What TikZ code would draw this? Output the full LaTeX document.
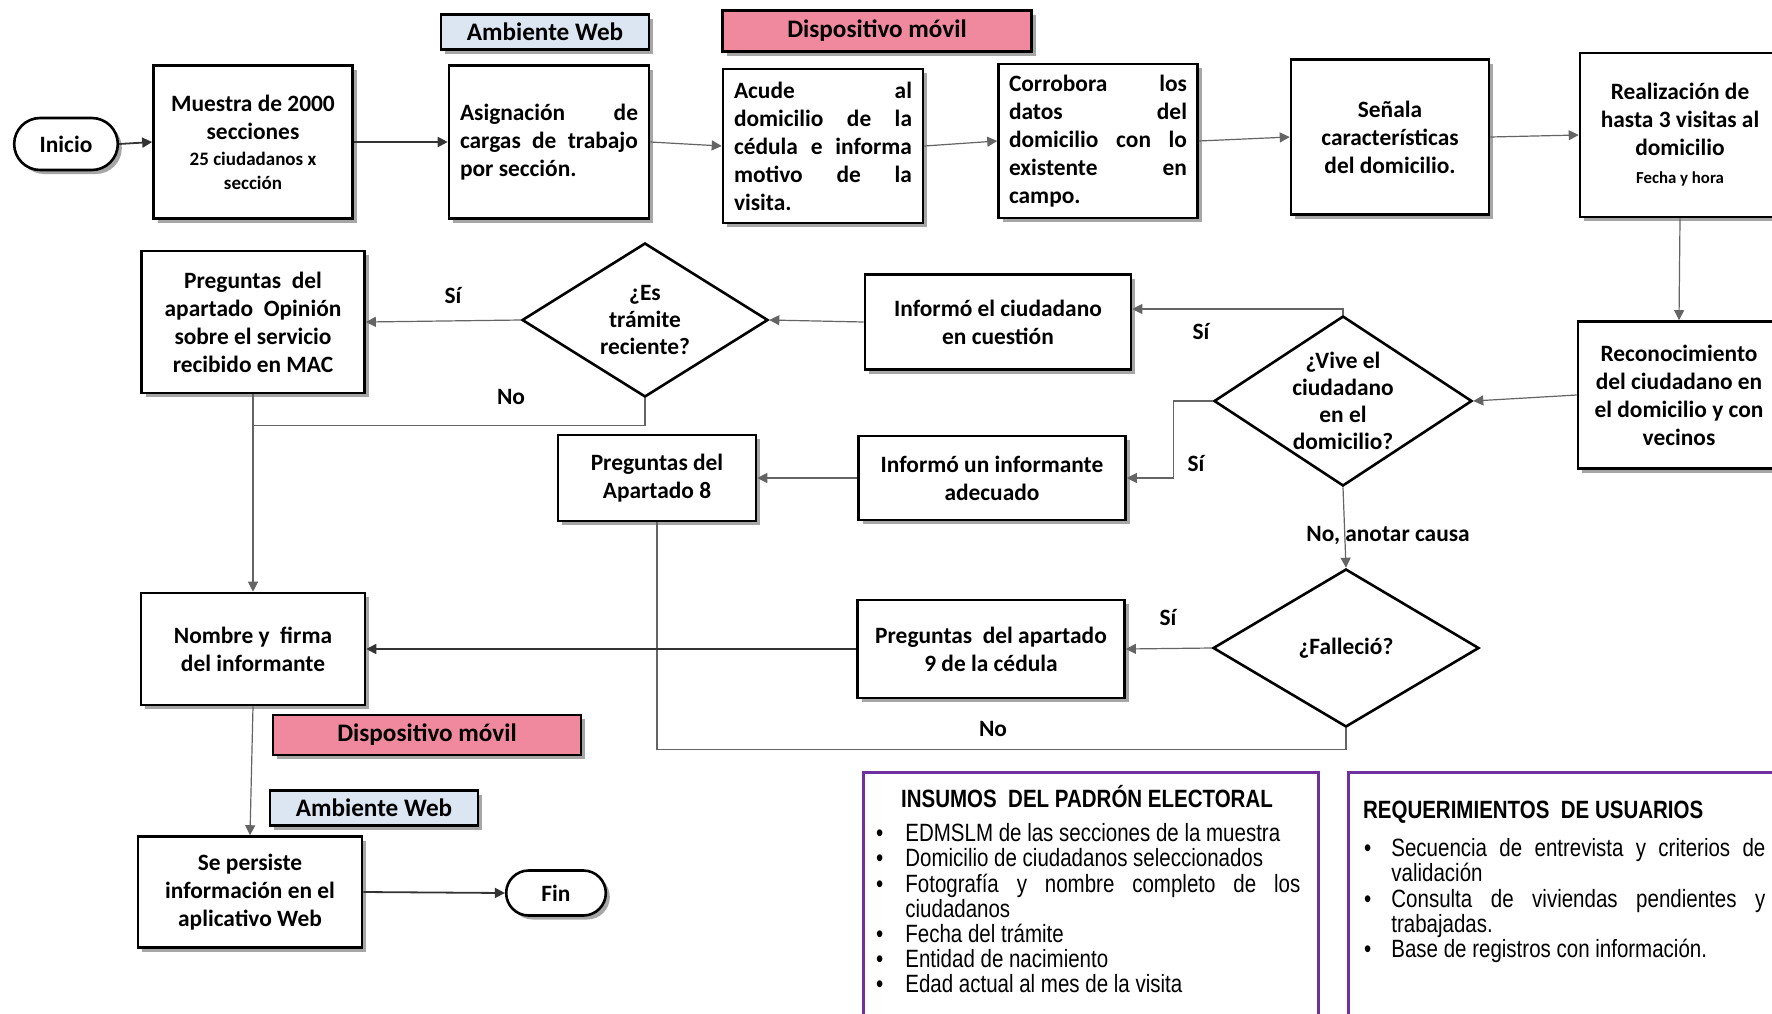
\documentclass[tikz,border=0pt]{standalone}
\usepackage{fontspec}
\setmainfont{Carlito}
\newfontfamily\narrowfont[FakeStretch=0.82]{Liberation Sans}
\usetikzlibrary{shapes.geometric,shapes.misc,arrows.meta,shadows}
\definecolor{webblue}{RGB}{220,230,242}
\definecolor{mobpink}{RGB}{240,137,157}
\definecolor{purp}{RGB}{112,48,160}
\definecolor{linegray}{RGB}{100,100,100}
\hyphenpenalty=10000
\exhyphenpenalty=10000
\tolerance=10000
\hbadness=10000
\begin{document}
\begin{tikzpicture}[x=0.5pt,y=-0.5pt,
  dshadow/.style={drop shadow={shadow xshift=2pt,shadow yshift=-2pt,fill=black,opacity=0.35}},
  sz/.style 2 args={minimum width=#1*0.5pt,minimum height=#2*0.5pt},
  box/.style={draw,line width=1.3pt,fill=white,align=center,inner sep=3pt,
    font=\bfseries\fontsize{11.7}{14}\selectfont,dshadow},
  jbox/.style={box,text width=89pt,align=justify},
  term/.style={rounded rectangle,draw,line width=1.3pt,fill=white,
    font=\bfseries\fontsize{11.7}{14}\selectfont,dshadow},
  tag/.style={draw,line width=1.3pt,font=\bfseries\fontsize{12.6}{15}\selectfont,dshadow},
  dia/.style={diamond,draw,line width=1.3pt,fill=white,inner sep=0pt},
  dtext/.style={align=center,font=\bfseries\fontsize{11.7}{13.5}\selectfont},
  lbl/.style={font=\bfseries\fontsize{11.7}{14}\selectfont},
  conn/.style={draw=linegray,line width=0.6pt},
  arr/.style={conn,-{Triangle[length=5pt,width=5pt]}},
  thick arr/.style={arr,draw=black!80,line width=0.9pt},
  listfont/.style={font=\narrowfont\fontsize{12.5}{12.6}\selectfont}
]
\fill[white] (0,0) rectangle (1772,1013);
\useasboundingbox (0,0) rectangle (1772,1013);

% top row
\node[term,sz={117}{52}] (inicio) at (66,144) {Inicio};
\node[box,sz={199}{153}] (muestra) at (253,142) {Muestra de 2000\\ secciones\\[-1pt] \fontsize{9.5}{11}\selectfont 25 ciudadanos x\\[-2pt] \fontsize{9.5}{11}\selectfont sección};
\node[jbox,sz={200}{153}] (asig) at (549,142) {Asignación de\linebreak cargas de trabajo\linebreak por sección.};
\node[jbox,sz={200}{154}] (acude) at (823,146) {Acude al\linebreak domicilio de la\linebreak cédula e informa\linebreak motivo de la\linebreak visita.};
\node[jbox,sz={199}{154}] (corr) at (1098,141) {Corrobora los\linebreak datos del\linebreak domicilio con lo\linebreak existente en\linebreak campo.};
\node[box,sz={198}{155}] (senala) at (1390,137) {Señala\\ características\\ del domicilio.};
\node[box,sz={200}{164}] (realiz) at (1680,135) {Realización de\\ hasta 3 visitas al\\ domicilio\\ \fontsize{8.4}{10}\selectfont Fecha y hora};

% tags
\node[tag,fill=webblue,sz={208}{35}] (aw1) at (545,32) {Ambiente Web};
\node[tag,fill=mobpink,sz={309}{41}] (dm1) at (877,31) {Dispositivo móvil};
\node[tag,fill=mobpink,sz={308}{40}] (dm2) at (427,735) {Dispositivo móvil};
\node[tag,fill=webblue,sz={208}{35}] (aw2) at (374,808) {Ambiente Web};

% middle
\node[box,sz={202}{147}] (recon) at (1679,395) {Reconocimiento\\ del ciudadano en\\ el domicilio y con\\ vecinos};
\node[dia,sz={258}{170}] (vive) at (1343,401) {};
\node[dtext] (vivet) at (vive) {¿Vive el\\ ciudadano\\ en el\\ domicilio?};
\node[box,sz={266}{95}] (ciud) at (998,322) {Informó el ciudadano\\ en cuestión};
\node[dia,sz={246}{154}] (tram) at (645,320) {};
\node[dtext] (tramt) at (tram) {¿Es\\ trámite\\ reciente?};
\node[box,sz={223}{142}] (opin) at (253,322) {Preguntas\ \ del\\ apartado\ \ Opinión\\ sobre el servicio\\ recibido en MAC};
\node[box,sz={267}{84}] (inf) at (992,478) {Informó un informante\\ adecuado};
\node[box,sz={198}{86}] (apt8) at (657,478) {Preguntas del\\ Apartado 8};
\node[dia,sz={266}{158}] (fall) at (1346,648) {};
\node[dtext] (fallt) at (fall) {¿Falleció?};
\node[box,sz={267}{98}] (apt9) at (991,649) {Preguntas\ \ del apartado\\ 9 de la cédula};
\node[box,sz={224}{112}] (nombre) at (253,649) {Nombre y\ \ firma\\ del informante};
\node[box,sz={224}{111}] (pers) at (250,892) {Se persiste\\ información en el\\ aplicativo Web};
\node[term,sz={113}{45}] (fin) at (556,893) {Fin};

% connectors
\draw[thick arr] (inicio.east) -- (muestra.west);
\draw[thick arr] (muestra.east) -- (asig.west);
\draw[arr] (asig.east) -- (acude.west);
\draw[arr] (acude.east) -- (corr.west);
\draw[arr] (corr.east) -- (senala.west);
\draw[arr] (senala.east) -- (realiz.west);
\draw[arr] (realiz.south) -- (recon.north);
\draw[arr] (recon.west) -- (vive.east);
\draw[arr] (vive.north) |- ([yshift=6.5pt]ciud.east);
\draw[arr] (ciud.west) -- (tram.east);
\draw[arr] (tram.west) -- (opin.east);
\draw[arr] (opin.south) -- (nombre.north);
\draw[conn] (tram.south) -- ++(0,27) -| (opin.south);
\draw[arr] (vive.west) -- ++(-39,0) |- (inf.east);
\draw[arr] (inf.west) -- (apt8.east);
\draw[arr] (vive.south) -- (fall.north);
\draw[arr] (fall.west) -- (apt9.east);
\draw[conn] (fall.south) -- ++(0,21) -| (apt8.south);
\draw[thick arr] (apt9.west) -- (nombre.east);
\draw[arr] (nombre.south) -- (pers.north);
\draw[thick arr] (pers.east) -- (fin.west);

% labels
\node[lbl] (s1) at (453,295) {Sí};
\node[lbl] (n1) at (511,397) {No};
\node[lbl] (s2) at (1201,331) {Sí};
\node[lbl] (s3) at (1196,463) {Sí};
\node[lbl] (nc) at (1388,535) {No, anotar causa};
\node[lbl] (s4) at (1168,617) {Sí};
\node[lbl] (n2) at (993,729) {No};

% bottom boxes
\node[draw=purp,line width=1.5pt,sz={455}{280},anchor=north west] (insbox) at (862,771) {};
\node[draw=purp,line width=1.5pt,sz={450}{280},anchor=north west] (reqbox) at (1347,771) {};
\node[anchor=base,font=\narrowfont\bfseries\fontsize{12.5}{14}\selectfont] (instit) at (1087,807) {INSUMOS\ \ DEL PADRÓN ELECTORAL};
\node[anchor=base west,font=\narrowfont\bfseries\fontsize{12.5}{14}\selectfont] (reqtit) at (1356,818) {REQUERIMIENTOS\ \ DE USUARIOS};
\node[anchor=north west,text width=217pt,inner sep=0pt,align=justify,listfont] (inslist) at (866,816) {%
\begin{list}{\textbullet}{\setlength\leftmargin{19.5pt}\setlength\labelwidth{6pt}\setlength\labelsep{11pt}\setlength\itemsep{0pt}\setlength\parsep{0pt}\setlength\topsep{0pt}\setlength\partopsep{0pt}}
\item EDMSLM de las secciones de la muestra
\item Domicilio de ciudadanos seleccionados
\item Fotografía y nombre completo de los ciudadanos
\item Fecha del trámite
\item Entidad de nacimiento
\item Edad actual al mes de la visita
\end{list}};
\node[anchor=north west,text width=202.5pt,inner sep=0pt,align=justify,listfont] (reqlist) at (1360,831) {%
\begin{list}{\textbullet}{\setlength\leftmargin{15.5pt}\setlength\labelwidth{6pt}\setlength\labelsep{10pt}\setlength\itemsep{0pt}\setlength\parsep{0pt}\setlength\topsep{0pt}\setlength\partopsep{0pt}}
\item Secuencia de entrevista y criterios de validación
\item Consulta de viviendas pendientes y trabajadas.
\item Base de registros con información.
\end{list}};
\end{tikzpicture}
\end{document}
